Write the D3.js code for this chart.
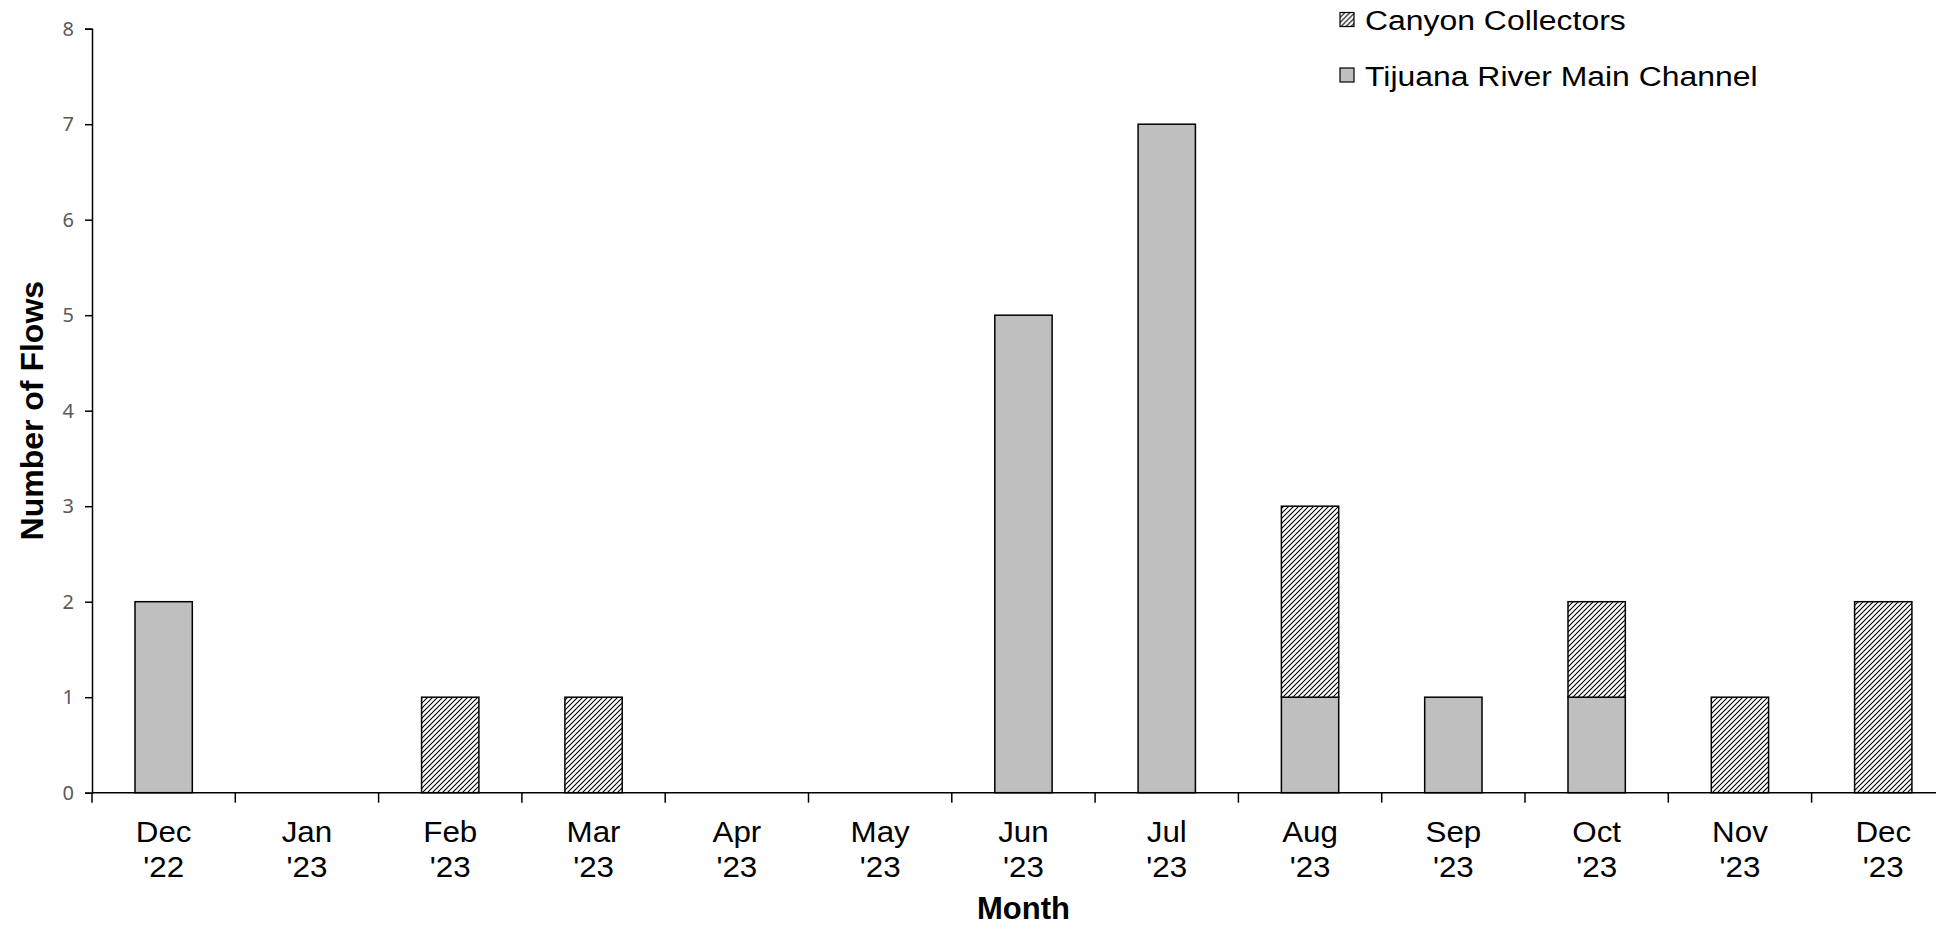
<!DOCTYPE html>
<html>
<head>
<meta charset="utf-8">
<script src="https://cdn.jsdelivr.net/npm/d3@7"></script>
<style>
  html, body { margin: 0; padding: 0; background: #fff; }
  svg { display: block; }
</style>
</head>
<body>
<svg id="chart" width="1936" height="928"></svg>
<script>
// Monthly flow counts by source
const months = ["Dec\n'22", "Jan\n'23", "Feb\n'23", "Mar\n'23", "Apr\n'23", "May\n'23", "Jun\n'23",
                "Jul\n'23", "Aug\n'23", "Sep\n'23", "Oct\n'23", "Nov\n'23", "Dec\n'23"];
const mainChannel = [2, 0, 0, 0, 0, 0, 5, 7, 1, 1, 1, 0, 0];
const canyonCollectors = [0, 0, 1, 1, 0, 0, 0, 0, 2, 0, 1, 1, 2];
const seriesNames = ["Tijuana River Main Channel", "Canyon Collectors"];
const yTicks = [0, 1, 2, 3, 4, 5, 6, 7, 8];

const svg = d3.select("#chart");

const plotLeft = 92, plotTop = 28.7, plotBottom = 792.7;
const band = 143.3;
const FONT = "'Liberation Sans', Arial, sans-serif";

const x = d3.scaleBand()
  .domain(d3.range(months.length))
  .range([plotLeft, plotLeft + band * months.length])
  .paddingInner(0.6)
  .paddingOuter(0.3);

const y = d3.scaleLinear().domain([0, 8]).range([plotBottom, plotTop]);

// Hatch pattern for the canyon collector segments
const defs = svg.append("defs");
const pat = defs.append("pattern")
  .attr("id", "hatch")
  .attr("patternUnits", "userSpaceOnUse")
  .attr("width", 5).attr("height", 5);
pat.append("rect").attr("width", 5).attr("height", 5).attr("fill", "#fff");
pat.append("path")
  .attr("d", "M-1,1 l2,-2 M0,5 l5,-5 M4,6 l2,-2")
  .attr("stroke", "#000").attr("stroke-width", 1.1);

// Stacked data: main channel at the bottom, canyon collectors on top
const rows = months.map((m, i) => ({ i, main: mainChannel[i], canyon: canyonCollectors[i] }));
const stack = d3.stack().keys(["main", "canyon"])(rows);
const fills = { main: "#bfbfbf", canyon: "url(#hatch)" };

const barsG = svg.append("g");
stack.forEach(layer => {
  barsG.selectAll(null)
    .data(layer.filter(d => d[1] - d[0] > 0))
    .join("rect")
    .attr("x", d => x(d.data.i))
    .attr("width", x.bandwidth())
    .attr("y", d => y(d[1]))
    .attr("height", d => y(d[0]) - y(d[1]))
    .attr("fill", fills[layer.key])
    .attr("stroke", "#000")
    .attr("stroke-width", 1.5);
});

// Y axis
const yAxis = svg.append("g")
  .attr("transform", `translate(${plotLeft},0)`)
  .call(d3.axisLeft(y).tickValues(yTicks).tickSize(7).tickPadding(11).tickFormat(d3.format("d")));
yAxis.select(".domain").attr("stroke", "#000").attr("stroke-width", 1.5);
yAxis.selectAll(".tick line").attr("stroke", "#000").attr("stroke-width", 1.5);
yAxis.selectAll(".tick text")
  .attr("fill", "#595959")
  .style("font-family", "'Noto Sans', 'Open Sans', sans-serif")
  .style("font-size", "20px");

// X axis: ticks at category boundaries, labels centred in each band
const xEdge = d3.scaleLinear().domain([0, months.length]).range([plotLeft, plotLeft + band * months.length]);
const xAxisG = svg.append("g").attr("transform", `translate(0,${plotBottom})`);
xAxisG.append("line")
  .attr("x1", plotLeft).attr("x2", xEdge(months.length))
  .attr("stroke", "#000").attr("stroke-width", 1.5);
xAxisG.selectAll(".xtick")
  .data(d3.range(months.length + 1))
  .join("line")
  .attr("x1", d => xEdge(d)).attr("x2", d => xEdge(d))
  .attr("y1", 0).attr("y2", 10)
  .attr("stroke", "#000").attr("stroke-width", 1.5);

const labels = xAxisG.selectAll(".xlabel")
  .data(months)
  .join("text")
  .attr("text-anchor", "middle")
  .attr("transform", (d, i) => `translate(${x(i) + x.bandwidth() / 2},0) scale(1.08,1)`)
  .style("font-family", FONT)
  .style("font-size", "29px")
  .attr("fill", "#000");
labels.selectAll("tspan")
  .data(d => d.split("\n"))
  .join("tspan")
  .attr("x", 0)
  .attr("y", (d, k) => 49 + k * 35)
  .text(d => d);

// Axis titles
svg.append("text")
  .attr("x", xEdge(months.length / 2)).attr("y", 919)
  .attr("text-anchor", "middle")
  .style("font-family", FONT)
  .style("font-size", "31px").style("font-weight", "bold")
  .text("Month");

svg.append("text")
  .attr("transform", `translate(43,${(plotTop + plotBottom) / 2}) rotate(-90)`)
  .attr("text-anchor", "middle")
  .style("font-family", FONT)
  .style("font-size", "32px").style("font-weight", "bold")
  .text("Number of Flows");

// Legend (top series listed first)
const legendItems = [
  { name: seriesNames[1], fill: "url(#hatch)" },
  { name: seriesNames[0], fill: "#bfbfbf" }
];
const legend = svg.append("g").attr("transform", "translate(1340,0)");
const li = legend.selectAll("g")
  .data(legendItems)
  .join("g")
  .attr("transform", (d, i) => `translate(0,${12.5 + i * 55.5})`);
li.append("rect")
  .attr("width", 14).attr("height", 14)
  .attr("fill", d => d.fill)
  .attr("stroke", "#000").attr("stroke-width", 1.2);
li.append("text")
  .attr("transform", "translate(25,17.5) scale(1.14,1)")
  .style("font-family", FONT)
  .style("font-size", "28px")
  .attr("fill", "#000")
  .text(d => d.name);
</script>
</body>
</html>
